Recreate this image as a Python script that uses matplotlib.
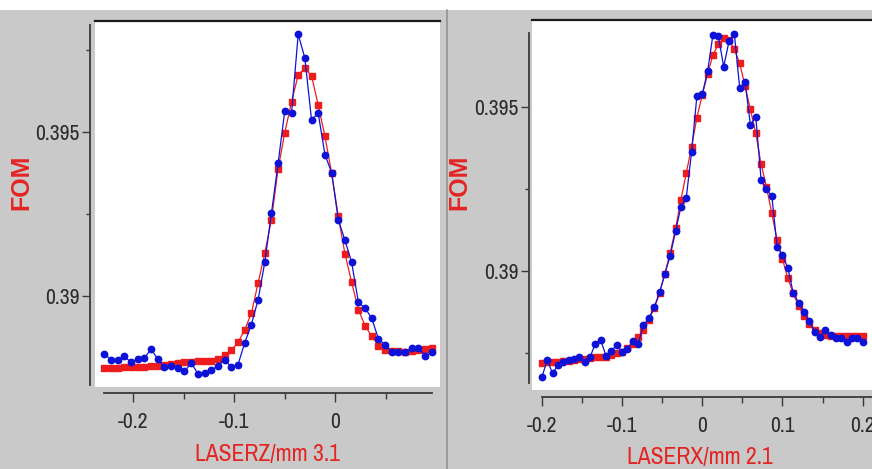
import matplotlib
matplotlib.use("Agg")
import matplotlib.pyplot as plt
from matplotlib import font_manager
from matplotlib.patches import Rectangle
from matplotlib.lines import Line2D

# ---- scan LASERZ (left panel) ----
z_pos = [-0.2287, -0.2221, -0.2155, -0.2088, -0.2022, -0.1956, -0.1890, -0.1824, -0.1757, -0.1691,
         -0.1625, -0.1559, -0.1493, -0.1426, -0.1360, -0.1294, -0.1228, -0.1162, -0.1095, -0.1029,
         -0.0963, -0.0897, -0.0831, -0.0764, -0.0698, -0.0632, -0.0566, -0.0500, -0.0433, -0.0367,
         -0.0301, -0.0235, -0.0169, -0.0102, -0.0036, 0.0030, 0.0096, 0.0162, 0.0229, 0.0295,
         0.0361, 0.0427, 0.0493, 0.0560, 0.0626, 0.0692, 0.0758, 0.0824, 0.0891, 0.0957]
z_fit = [0.38780, 0.38780, 0.38780, 0.38783, 0.38783, 0.38783, 0.38784, 0.38786, 0.38786, 0.38791,
         0.38794, 0.38796, 0.38798, 0.38798, 0.38801, 0.38801, 0.38803, 0.38809, 0.38821, 0.38834,
         0.38859, 0.38897, 0.38947, 0.39040, 0.39131, 0.39233, 0.39388, 0.39499, 0.39592, 0.39675,
         0.39695, 0.39672, 0.39583, 0.39487, 0.39375, 0.39243, 0.39129, 0.39042, 0.38958, 0.38910,
         0.38877, 0.38849, 0.38836, 0.38831, 0.38831, 0.38829, 0.38831, 0.38836, 0.38838, 0.38841]
z_meas = [0.38823, 0.38806, 0.38806, 0.38816, 0.38798, 0.38808, 0.38811, 0.38838, 0.38808, 0.38783,
          0.38786, 0.38780, 0.38770, 0.38796, 0.38763, 0.38765, 0.38775, 0.38786, 0.38806, 0.38783,
          0.38791, 0.38857, 0.38913, 0.38989, 0.39103, 0.39253, 0.39405, 0.39565, 0.39558, 0.39799,
          0.39726, 0.39538, 0.39558, 0.39431, 0.39377, 0.39233, 0.39170, 0.39103, 0.38981, 0.38963,
          0.38933, 0.38869, 0.38852, 0.38828, 0.38828, 0.38828, 0.38841, 0.38841, 0.38818, 0.38828]

# ---- scan LASERX (right panel) ----
x_pos = [-0.2000, -0.1933, -0.1867, -0.1800, -0.1733, -0.1667, -0.1600, -0.1533, -0.1467, -0.1400,
         -0.1333, -0.1267, -0.1200, -0.1133, -0.1067, -0.1000, -0.0933, -0.0867, -0.0800, -0.0733,
         -0.0667, -0.0600, -0.0533, -0.0467, -0.0400, -0.0333, -0.0267, -0.0200, -0.0133, -0.0067,
         0.0000, 0.0067, 0.0133, 0.0200, 0.0267, 0.0333, 0.0400, 0.0467, 0.0533, 0.0600,
         0.0667, 0.0733, 0.0800, 0.0867, 0.0933, 0.1000, 0.1067, 0.1133, 0.1200, 0.1267,
         0.1333, 0.1400, 0.1467, 0.1533, 0.1600, 0.1667, 0.1733, 0.1800, 0.1867, 0.1933, 0.2000]
x_fit = [0.38720, 0.38721, 0.38722, 0.38723, 0.38724, 0.38726, 0.38728, 0.38730, 0.38732, 0.38734,
         0.38736, 0.38737, 0.38738, 0.38743, 0.38748, 0.38753, 0.38763, 0.38776, 0.38797, 0.38819,
         0.38850, 0.38885, 0.38931, 0.38990, 0.39055, 0.39129, 0.39215, 0.39297, 0.39378, 0.39467,
         0.39536, 0.39600, 0.39658, 0.39691, 0.39708, 0.39703, 0.39675, 0.39632, 0.39563, 0.39492,
         0.39419, 0.39325, 0.39256, 0.39175, 0.39093, 0.39035, 0.38977, 0.38931, 0.38892, 0.38862,
         0.38837, 0.38819, 0.38809, 0.38804, 0.38801, 0.38801, 0.38801, 0.38801, 0.38801, 0.38801,
         0.38801]
x_meas = [0.38675, 0.38728, 0.38687, 0.38712, 0.38723, 0.38728, 0.38730, 0.38736, 0.38723, 0.38736,
          0.38778, 0.38789, 0.38740, 0.38756, 0.38773, 0.38753, 0.38760, 0.38786, 0.38776, 0.38834,
          0.38855, 0.38888, 0.38934, 0.38990, 0.39046, 0.39120, 0.39194, 0.39222, 0.39363, 0.39533,
          0.39539, 0.39608, 0.39720, 0.39715, 0.39622, 0.39699, 0.39722, 0.39556, 0.39576, 0.39444,
          0.39470, 0.39278, 0.39248, 0.39228, 0.39073, 0.39048, 0.39008, 0.38933, 0.38903, 0.38875,
          0.38848, 0.38814, 0.38797, 0.38819, 0.38804, 0.38794, 0.38794, 0.38784, 0.38794, 0.38794,
          0.38784]

# ---- ticks and labels ----
z_xticks = [-0.2, -0.1, 0.0]
z_xticklabels = ["-0.2", "-0.1", "0"]
z_xminor = [-0.15, -0.05, 0.05]
z_yminor = [0.3925, 0.3975]
x_xticks = [-0.2, -0.1, 0.0, 0.1, 0.2]
x_xticklabels = ["-0.2", "-0.1", "0", "0.1", "0.2"]
x_xminor = [-0.15, -0.05, 0.05, 0.15]
x_yminor = [0.3875, 0.3925]
yticks = [0.39, 0.395]
yticklabels = ["0.39", "0.395"]
z_label = "LASERZ/mm 3.1"
x_label = "LASERX/mm 2.1"
y_label = "FOM"

W, H = 872, 469
RED = "#ee1c1c"
BLUE = "#0d12d8"
TXT_RED = "#e42523"
AXC = "#3a3a3a"
PANEL = "#c9c9c9"

# narrow face for numbers and axis names, plain fallback otherwise
names = {f.name for f in font_manager.fontManager.ttflist}
if "Archivo Narrow" in names:
    NARROW = "Archivo Narrow"
    tick_size, label_size = 15.5, 17
else:
    NARROW = "Liberation Sans"
    tick_size, label_size = 12.5, 14.5


def px_box(x0, y0, x1, y1):
    return [x0 / W, 1 - y1 / H, (x1 - x0) / W, (y1 - y0) / H]


def px(x, y):
    return x / W, 1 - y / H


def draw_panel(ax, xs, fit, meas, xlim, ylim, xbounds, ybounds, left_out, bottom_out,
               xticks, xticklabels, xminor, yminor):
    ax.set_facecolor("white")
    ax.plot(xs, fit, "-s", color=RED, lw=0.9, ms=4.6, mec=RED, zorder=3)
    ax.plot(xs, meas, "-o", color=BLUE, lw=0.9, ms=4.6, mec=BLUE, zorder=4)
    ax.set_xlim(*xlim)
    ax.set_ylim(*ylim)

    ax.spines["right"].set_visible(False)
    ax.spines["top"].set_color("#1c1c1c")
    ax.spines["top"].set_linewidth(1.6)
    for side, out, bounds in (("left", left_out, ybounds), ("bottom", bottom_out, xbounds)):
        sp = ax.spines[side]
        sp.set_position(("outward", out * 0.72))
        sp.set_bounds(*bounds)
        sp.set_color(AXC)
        sp.set_linewidth(1.3)

    ax.set_xticks(xticks)
    ax.set_xticklabels(xticklabels, fontfamily=NARROW, fontsize=tick_size)
    ax.set_xticks(xminor, minor=True)
    ax.set_yticks(yticks)
    ax.set_yticklabels(yticklabels, fontfamily=NARROW, fontsize=tick_size)
    ax.set_yticks(yminor, minor=True)

    ax.tick_params(axis="y", which="major", direction="out", length=6, width=1,
                   color=AXC, labelcolor="#2b2b2b", pad=1.5)
    ax.tick_params(axis="y", which="minor", direction="out", length=3.2, width=1, color=AXC)
    ax.tick_params(axis="x", which="major", direction="out", length=6.5, width=1,
                   color=AXC, labelcolor="#2b2b2b", pad=7.5)
    ax.tick_params(axis="x", which="minor", direction="out", length=4.5, width=1, color=AXC)


fig = plt.figure(figsize=(W / 100, H / 100), dpi=100)
fig.patch.set_facecolor("white")
fig.add_artist(Rectangle((0, 0), 1, 1 - 10 / H, transform=fig.transFigure,
                         facecolor=PANEL, edgecolor="none", zorder=0))
fig.add_artist(Line2D([446.5 / W] * 2, [0, 1 - 10 / H], transform=fig.transFigure,
                      color="#8e8e8e", lw=1.1, zorder=1))

ax_z = fig.add_axes(px_box(95, 21, 440, 387))
draw_panel(ax_z, z_pos, z_fit, z_meas,
           xlim=(-0.2379, 0.1037), ylim=(0.387226, 0.398393),
           xbounds=(-0.2290, 0.0957), ybounds=(0.387287, 0.398271),
           left_out=5, bottom_out=6,
           xticks=z_xticks, xticklabels=z_xticklabels, xminor=z_xminor, yminor=z_yminor)

ax_x = fig.add_axes(px_box(532, 20, 872, 390))
draw_panel(ax_x, x_pos, x_fit, x_meas,
           xlim=(-0.2123, 0.2116), ylim=(0.386363, 0.397643),
           xbounds=(-0.2, 0.2116), ybounds=(0.386576, 0.397247),
           left_out=3, bottom_out=7,
           xticks=x_xticks, xticklabels=x_xticklabels, xminor=x_xminor, yminor=x_yminor)

# axis titles
fig.text(*px(267, 454), z_label, color=TXT_RED, ha="center", va="center",
         family=NARROW, fontsize=label_size)
fig.text(*px(700, 457), x_label, color=TXT_RED, ha="center", va="center",
         family=NARROW, fontsize=label_size)
for cx in (21, 459.5):
    fig.text(*px(cx, 182), y_label, color=TXT_RED, ha="center", va="center",
             rotation=90, family="Liberation Sans", fontweight="bold", fontsize=18)

fig.savefig("out.png", dpi=100)
